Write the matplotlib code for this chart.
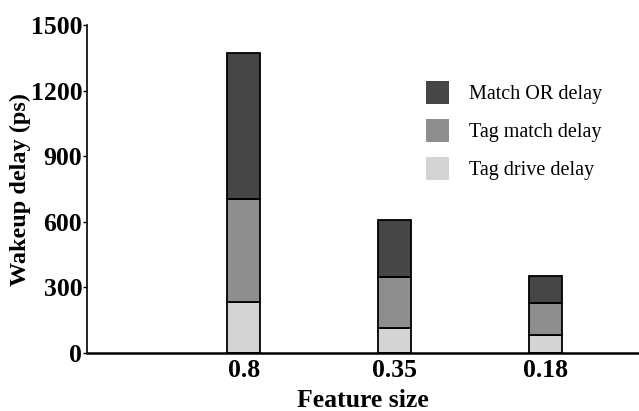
import matplotlib
matplotlib.use("Agg")
import matplotlib.pyplot as plt
import numpy as np
from matplotlib.patches import Patch

categories = ["0.8", "0.35", "0.18"]
tag_drive = [233, 116, 82]
tag_match = [471, 233, 145]
match_or = [668, 259, 125]
series_names = ["Match OR delay", "Tag match delay", "Tag drive delay"]
yticks = [0, 300, 600, 900, 1200, 1500]

plt.rcParams['font.family'] = ['Liberation Serif', 'DejaVu Serif']

fig = plt.figure(figsize=(6.39, 4.11), dpi=100)
ax = fig.add_axes([87/639, 58/411, 1 - 87/639, (353-25)/411])

x = np.arange(1, len(categories) + 1)
w = 0.22
c_drive, c_match, c_or = "#d4d4d4", "#8e8e8e", "#464646"
ax.bar(x, tag_drive, w, color=c_drive, edgecolor="black", linewidth=1.3)
ax.bar(x, tag_match, w, bottom=tag_drive, color=c_match, edgecolor="black", linewidth=1.3)
bottom2 = np.array(tag_drive) + np.array(tag_match)
ax.bar(x, match_or, w, bottom=bottom2, color=c_or, edgecolor="black", linewidth=1.3)

ax.set_xlim(-0.04, 3.62)
ax.set_ylim(0, 1500)
ax.set_yticks(yticks)
ax.set_yticklabels([str(t) for t in yticks], fontsize=18.5, fontweight="bold")
ax.set_xticks(x)
ax.set_xticklabels(categories, fontsize=18.5, fontweight="bold")
ax.tick_params(axis="x", length=0, pad=4)
ax.tick_params(axis="y", length=3, width=1, pad=0.5, direction="out")
for s in ["top", "right"]:
    ax.spines[s].set_visible(False)
ax.spines["left"].set_linewidth(1.2)
ax.spines["bottom"].set_linewidth(1.8)

ax.set_ylabel("Wakeup delay (ps)", fontsize=17.5, fontweight="bold", labelpad=0)
ax.set_xlabel("Feature size", fontsize=18.5, fontweight="bold", labelpad=5)

handles = [Patch(facecolor=c_or, edgecolor="none"),
           Patch(facecolor=c_match, edgecolor="none"),
           Patch(facecolor=c_drive, edgecolor="none")]
ax.legend(handles, series_names, loc="upper left",
          bbox_to_anchor=((408-87)/552, (353-63)/328),
          frameon=False, fontsize=14.5, handlelength=1.15, handleheight=1.35,
          handletextpad=1.0, labelspacing=0.75)

fig.savefig("out.png", dpi=100)
